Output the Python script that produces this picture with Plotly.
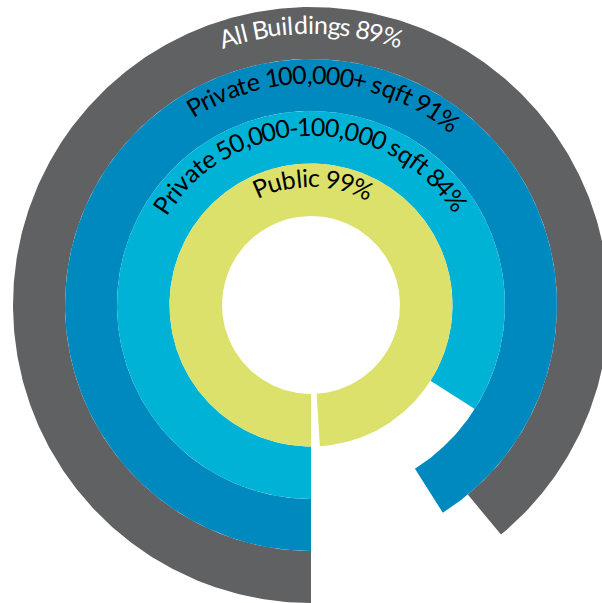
import numpy as np
import plotly.graph_objects as go

# ---- data ----
categories = ["All Buildings", "Private 100,000+ sqft", "Private 50,000-100,000 sqft", "Public"]
values = [89, 91, 84, 99]          # percent
colors = ["#606163", "#0089BF", "#00B2D5", "#DCE16B"]
text_colors = ["#FFFFFF", "#000000", "#000000", "#000000"]

# ---- layout / geometry (pixels) ----
W, H = 602, 603
CX, CY = 311, 305
edges = [298, 246, 194, 141.5, 89]          # ring i spans edges[i+1]..edges[i]
text_r = [281, 231, 179, 128]               # radius used to place glyph anchors
text_center = [0.0, 3.5, -0.5, 1.0]         # degrees clockwise from top
SPACING_PX = 26                             # font size used for advance widths
FONT_SIZE = 25

# approximate advance widths (em)
CW = {' ': .226, ',': .25, '.': .252, '%': .715, '+': .498, '-': .306,
      'A': .579, 'B': .544, 'P': .517,
      'a': .479, 'b': .525, 'c': .423, 'd': .525, 'e': .498, 'f': .305, 'g': .471,
      'i': .229, 'l': .229, 'n': .525, 'q': .525, 'r': .349, 's': .391, 't': .335,
      'u': .525, 'v': .452}
for d in "0123456789":
    CW[d] = .507


def pt(r, phi_deg):
    """phi: degrees clockwise from top."""
    p = np.radians(phi_deg)
    return CX + r * np.sin(p), CY - r * np.cos(p)


fig = go.Figure()
annotations = []
for i, (cat, val) in enumerate(zip(categories, values)):
    r_out, r_in = edges[i], edges[i + 1]
    span = 360.0 * val / 100.0
    th = np.linspace(0, span, 600)
    phi = 180.0 + th
    xo, yo = pt(r_out, phi)
    xi, yi = pt(r_in, phi[::-1])
    xs = np.concatenate([xo, xi, xo[:1]])
    ys = np.concatenate([yo, yi, yo[:1]])
    fig.add_trace(go.Scatter(x=xs, y=ys, mode="lines", fill="toself",
                             fillcolor=colors[i], line=dict(width=0, color=colors[i]),
                             hoverinfo="skip", showlegend=False))

    label = f"{cat} {val}%"
    rb = text_r[i] - 9
    widths = [CW.get(c, .5) * SPACING_PX for c in label]
    total = sum(widths)
    start = np.radians(text_center[i]) - total / rb / 2
    cum = 0.0
    for c, w in zip(label, widths):
        ang = start + (cum + w / 2) / rb
        cum += w
        if c == ' ':
            continue
        deg = np.degrees(ang)
        x, y = pt(text_r[i], deg)
        annotations.append(dict(x=x, y=y, xref="x", yref="y", text=c, showarrow=False,
                                textangle=deg, xanchor="center", yanchor="middle",
                                font=dict(family="Lato", size=FONT_SIZE, color=text_colors[i])))

fig.update_layout(
    width=W, height=H, margin=dict(l=0, r=0, t=0, b=0),
    paper_bgcolor="white", plot_bgcolor="white",
    xaxis=dict(range=[0, W], visible=False, fixedrange=True),
    yaxis=dict(range=[H, 0], visible=False, fixedrange=True),
    annotations=annotations,
)
fig.write_html("out.html", config={"displayModeBar": False},
               post_script="document.body.style.margin='0';document.body.style.overflow='hidden';")
